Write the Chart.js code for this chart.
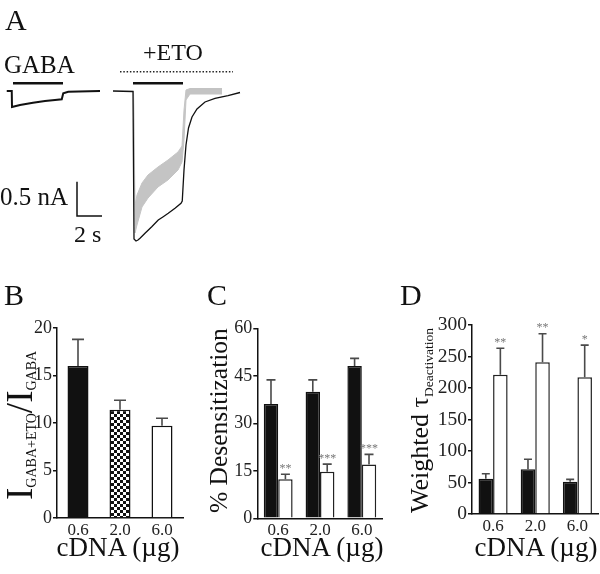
<!DOCTYPE html>
<html>
<head>
<meta charset="utf-8">
<script src="https://cdn.jsdelivr.net/npm/chart.js@4.4.1/dist/chart.umd.min.js"></script>
<style>
  html, body { margin: 0; padding: 0; background: #fff; }
  #fig { position: relative; width: 600px; height: 574px; overflow: hidden; }
  canvas { position: absolute; }
  .t { position: absolute; font-family: 'Liberation Serif', 'Times New Roman', serif; line-height: 1; white-space: nowrap; color: #111; }
  .c { text-align: center; width: 200px; }
  .rot { transform: rotate(-90deg); transform-origin: left top; }
  .sub { position: relative; }
</style>
</head>
<body>
<div id="fig">
  <canvas id="panelA" width="300" height="290" style="left:0;top:0"></canvas>
  <canvas id="panelB" width="200" height="274" style="left:0;top:300px"></canvas>
  <canvas id="panelC" width="200" height="274" style="left:200px;top:300px"></canvas>
  <canvas id="panelD" width="200" height="274" style="left:400px;top:300px"></canvas>

  <div class="t" style="left:5px;top:5px;font-size:30px">A</div>
  <div class="t" style="left:4px;top:52px;font-size:25px">GABA</div>
  <div class="t" style="left:143px;top:40px;font-size:24px">+ETO</div>
  <div class="t" style="left:0;top:184px;font-size:25px">0.5 nA</div>
  <div class="t" style="left:74px;top:222px;font-size:24px">2 s</div>

  <div class="t" style="left:4px;top:280px;font-size:30px">B</div>
  <div class="t" style="left:207px;top:280px;font-size:30px">C</div>
  <div class="t" style="left:400px;top:280px;font-size:30px">D</div>

  <div class="t c" style="left:18px;top:534px;font-size:27px">cDNA (µg)</div>
  <div class="t c" style="left:222px;top:534px;font-size:27px">cDNA (µg)</div>
  <div class="t c" style="left:436px;top:534px;font-size:27px">cDNA (µg)</div>

  <div class="t rot" style="left:1px;top:500px;font-size:37px">I<span class="sub" style="font-size:14px;top:4px">GABA+ETO</span>/I<span class="sub" style="font-size:14px;top:4px">GABA</span></div>
  <div class="t rot" style="left:205.5px;top:513px;font-size:25.5px">% Desensitization</div>
  <div class="t rot" style="left:407px;top:513px;font-size:26px">Weighted τ<span class="sub" style="font-size:13.5px;top:5px">Deactivation</span></div>
</div>

<script>
// ---- Panel A: current traces (time in s, current in nA) ----
const gabaTime = [0.54, 0.94, 0.96, 1.12, 1.6, 2.64, 3.6, 4.4, 4.94, 5.06, 5.46, 8.0];
const gabaCurrent = [0, 0, -0.233, -0.226, -0.204, -0.171, -0.146, -0.131, -0.121, -0.034, -0.010, 0];

const etoTime = [9.04, 10.64, 10.72, 10.88, 11.04, 11.2, 11.6, 12.14, 12.66, 13.06, 13.46, 14.0, 14.48, 14.58,
  14.72, 14.88, 15.08, 15.36, 15.76, 16.4, 17.2, 18.24, 19.2];
const etoCurrent = [0, -0.007, -2.157, -2.187, -2.172, -2.147, -2.074, -1.978, -1.880, -1.832, -1.783, -1.710, -1.637, -1.603,
  -1.152, -0.787, -0.539, -0.379, -0.262, -0.160, -0.109, -0.066, -0.022];

// grey trace is noisy, kept as an upper / lower envelope
const greyTime = [10.68, 10.8, 10.96, 11.36, 11.84, 12.64, 13.44, 14.24, 14.56, 14.72, 14.88, 15.2, 16.4, 17.76];
const greyUpper = [0, -1.662, -1.516, -1.341, -1.224, -1.108, -1.006, -0.889, -0.802, -0.277, 0.015, 0.036, 0.036, 0.036];
const greyLower = [0, -2.070, -1.953, -1.691, -1.560, -1.399, -1.297, -1.152, -1.035, -0.714, -0.131, -0.044, -0.044, -0.044];

const gabaBarTime = [1.04, 5.04];
const etoBarTime = [10.64, 14.64];
const barLevel = 0.112;
const perfusionTime = [9.6, 18.64];
const perfusionLevel = 0.281;
const scaleOrigin = [6.16, -1.822];
const scaleTime = 2;     // s
const scaleCurrent = 0.5; // nA

// ---- Panels B-D ----
const doseLabels = ['0.6', '2.0', '6.0'];
const ratioMean = [16.0, 11.4, 9.7];
const ratioSem = [2.8, 1.0, 0.8];

const desensControl = [36.1, 40.0, 48.1];
const desensControlSem = [7.6, 3.7, 2.4];
const desensEto = [12.3, 14.7, 17.0];
const desensEtoSem = [1.6, 2.4, 3.2];
const desensStars = ['**', '***', '***'];

const tauControl = [56, 71, 51];
const tauControlSem = [8, 16, 4];
const tauEto = [221, 241, 217];
const tauEtoSem = [42, 45, 51];
const tauStars = ['**', '**', '*'];

Chart.defaults.font.family = "'Liberation Serif', 'Times New Roman', serif";
Chart.defaults.color = '#222';

function pts(xs, ys) {
  return xs.map((x, i) => ({ x: x, y: ys[i] }));
}

function lineSet(data, color, width, extra) {
  return Object.assign({
    data: data,
    borderColor: color,
    backgroundColor: color,
    borderWidth: width,
    pointRadius: 0,
    tension: 0,
    fill: false
  }, extra || {});
}

new Chart(document.getElementById('panelA'), {
  type: 'line',
  data: {
    datasets: [
      lineSet(pts(gabaTime, gabaCurrent), '#111', 2),
      lineSet(pts(etoTime, etoCurrent), '#111', 1.3),
      lineSet(pts(gabaBarTime, [barLevel, barLevel]), '#111', 2.5),
      lineSet(pts(etoBarTime, [barLevel, barLevel]), '#111', 2.5),
      lineSet(pts(perfusionTime, [perfusionLevel, perfusionLevel]), '#222', 1.5, { borderDash: [1.5, 1.8] }),
      lineSet([
        { x: scaleOrigin[0], y: scaleOrigin[1] + scaleCurrent },
        { x: scaleOrigin[0], y: scaleOrigin[1] },
        { x: scaleOrigin[0] + scaleTime, y: scaleOrigin[1] }
      ], '#111', 1.5),
      lineSet(pts(greyTime, greyLower), '#c4c4c4', 1, { order: 5 }),
      lineSet(pts(greyTime, greyUpper), '#c4c4c4', 1, { order: 5, fill: '-1' })
    ]
  },
  options: {
    responsive: false,
    animation: false,
    events: [],
    layout: { padding: 0 },
    plugins: { legend: { display: false }, tooltip: { enabled: false } },
    scales: {
      x: { type: 'linear', display: false, min: 0, max: 24 },
      y: { display: false, min: -2.901, max: 1.3265 }
    }
  }
});

// error bars (upward only) and significance stars
const errorBars = {
  id: 'errorBars',
  afterDatasetsDraw(chart, args, opts) {
    const ctx = chart.ctx;
    const y = chart.scales.y;
    ctx.save();
    chart.data.datasets.forEach((ds, i) => {
      if (!ds.errors) return;
      chart.getDatasetMeta(i).data.forEach((bar, j) => {
        const top = y.getPixelForValue(ds.data[j] + ds.errors[j]);
        ctx.strokeStyle = '#4a4a4a';
        ctx.lineWidth = 1.6;
        ctx.beginPath();
        ctx.moveTo(bar.x, bar.y);
        ctx.lineTo(bar.x, top);
        ctx.moveTo(bar.x - opts.cap / 2, top);
        ctx.lineTo(bar.x + opts.cap / 2, top);
        ctx.stroke();
        if (ds.stars) {
          ctx.fillStyle = '#777';
          ctx.font = "12px 'Liberation Serif', serif";
          ctx.textAlign = 'center';
          ctx.textBaseline = 'alphabetic';
          ctx.fillText(ds.stars[j], bar.x, top - 2.5);
        }
      });
    });
    ctx.restore();
  }
};

function checker() {
  const c = document.createElement('canvas');
  c.width = 6; c.height = 6;
  const g = c.getContext('2d');
  g.fillStyle = '#fff';
  g.fillRect(0, 0, 6, 6);
  g.fillStyle = '#111';
  g.fillRect(0, 0, 3, 3);
  g.fillRect(3, 3, 3, 3);
  return g.createPattern(c, 'repeat');
}

function barOptions(pad, yMax, step, yWidth, xHeight, cap, ySize) {
  return {
    responsive: false,
    animation: false,
    events: [],
    layout: { padding: pad },
    plugins: { legend: { display: false }, tooltip: { enabled: false }, errorBars: { cap: cap } },
    scales: {
      x: {
        grid: { display: false, drawTicks: false },
        border: { color: '#111', width: 1.5 },
        ticks: { padding: 2, font: { size: 17 } },
        afterFit: s => { s.height = xHeight; }
      },
      y: {
        min: 0, max: yMax,
        ticks: { stepSize: step, padding: 1, font: { size: ySize } },
        grid: { drawOnChartArea: false, tickLength: 4, color: '#111', lineWidth: 1.5 },
        border: { color: '#111', width: 1.5 },
        afterFit: s => { s.width = yWidth; }
      }
    }
  };
}

new Chart(document.getElementById('panelB'), {
  type: 'bar',
  data: {
    labels: doseLabels,
    datasets: [{
      data: ratioMean,
      errors: ratioSem,
      backgroundColor: ['#111', checker(), '#fff'],
      borderColor: '#111',
      borderWidth: 1.5,
      barPercentage: 0.5,
      categoryPercentage: 1
    }]
  },
  options: barOptions({ left: 27, right: 17, top: 28, bottom: 0 }, 20, 5, 30, 56, 12, 18),
  plugins: [errorBars]
});

new Chart(document.getElementById('panelC'), {
  type: 'bar',
  data: {
    labels: doseLabels,
    datasets: [
      { data: desensControl, errors: desensControlSem, backgroundColor: '#111', borderColor: '#111', borderWidth: 1.5,
        barPercentage: 1, categoryPercentage: 0.69 },
      { data: desensEto, errors: desensEtoSem, stars: desensStars, backgroundColor: '#fff', borderColor: '#222', borderWidth: 1.5,
        barPercentage: 1, categoryPercentage: 0.69 }
    ]
  },
  options: barOptions({ left: 27.3, right: 17.3, top: 28.3, bottom: 0 }, 60, 15, 30, 55.7, 9, 18),
  plugins: [errorBars]
});

new Chart(document.getElementById('panelD'), {
  type: 'bar',
  data: {
    labels: doseLabels,
    datasets: [
      { data: tauControl, errors: tauControlSem, backgroundColor: '#111', borderColor: '#111', borderWidth: 1.5,
        barPercentage: 1, categoryPercentage: 0.69 },
      { data: tauEto, errors: tauEtoSem, stars: tauStars, backgroundColor: '#fff', borderColor: '#222', borderWidth: 1.5,
        barPercentage: 1, categoryPercentage: 0.69 }
    ]
  },
  options: barOptions({ left: 36, right: 1.5, top: 25, bottom: 0 }, 300, 50, 36, 60, 8, 19.5),
  plugins: [errorBars]
});
</script>
</body>
</html>
